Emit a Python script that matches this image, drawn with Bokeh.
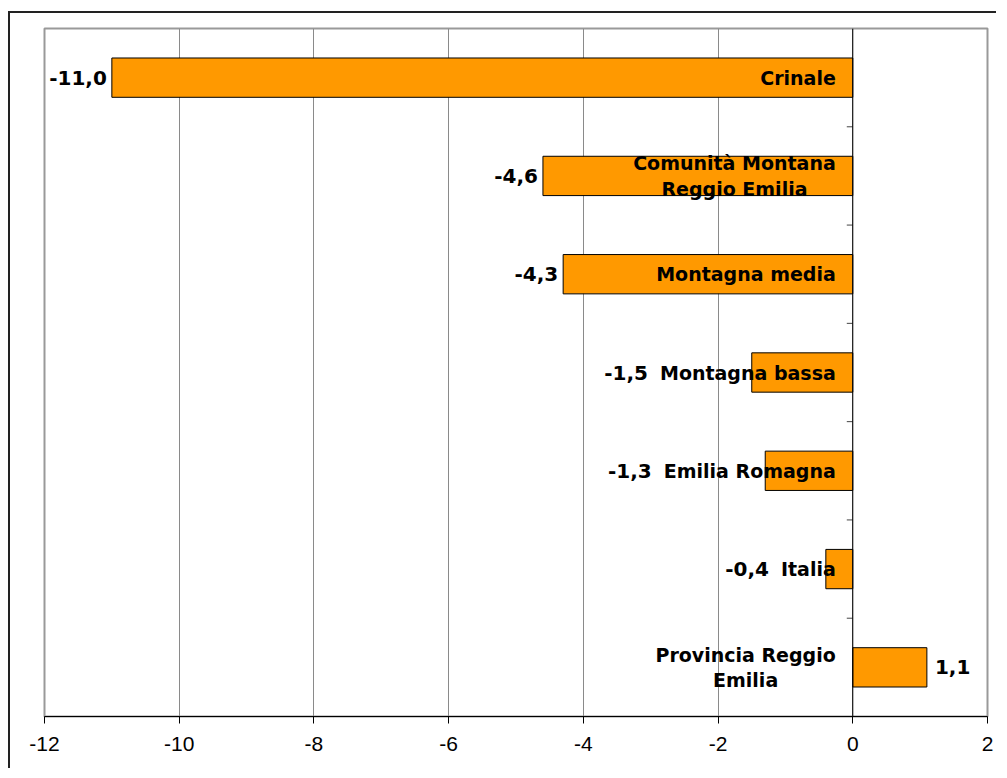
from bokeh.plotting import figure
from bokeh.models import ColumnDataSource, FixedTicker, Range1d, Span
from bokeh.core.properties import value
from bokeh.embed import file_html
from bokeh.resources import INLINE

# ---- data ----
categories = ["Crinale", "Comunità Montana\nReggio Emilia", "Montagna media",
              "Montagna bassa", "Emilia Romagna", "Italia",
              "Provincia Reggio\nEmilia"]
values = [-11.0, -4.6, -4.3, -1.5, -1.3, -0.4, 1.1]
value_labels = ["-11,0", "-4,6", "-4,3", "-1,5", "-1,3", "-0,4", "1,1"]
x_ticks = [-12, -10, -8, -6, -4, -2, 0, 2]
x_tick_labels = ["-12", "-10", "-8", "-6", "-4", "-2", "0", "2"]

# ---- layout / style ----
W, H = 988, 757
BL, BR, BT, BB = 34, 11, 15, 54
X_MIN, X_MAX = x_ticks[0], x_ticks[-1]
frame_w = W - BL - BR
ppu = frame_w / (X_MAX - X_MIN)
CAT_FONT = 19
VAL_FONT = 20
ORANGE = "#FF9900"

# approximate DejaVu Sans Bold advance widths (em)
CW = {" ": .348, "M": .995, "o": .687, "n": .712, "t": .478, "a": .675, "g": .716,
      "e": .678, "i": .343, "l": .343, "m": 1.042, "d": .716, "b": .716, "s": .595,
      "I": .372, "E": .683, "R": .770, "C": .734, "r": .493, "u": .712, "à": .675,
      "P": .733, "v": .652, "c": .593}


def text_w(s, size):
    return max(sum(CW.get(ch, .68) for ch in line) for line in s.split("\n")) * size


n = len(categories)
ys = [n - 1 - i for i in range(n)]
CAT_RIGHT = -17  # px from the zero line

single = dict(y=[], t=[])
multi = dict(y=[], t=[], xo=[])
for y, c in zip(ys, categories):
    if "\n" in c:
        multi["y"].append(y)
        multi["t"].append(c)
        multi["xo"].append(CAT_RIGHT - text_w(c, CAT_FONT) / 2)
    else:
        single["y"].append(y)
        single["t"].append(c)

neg = dict(y=[], t=[], xo=[])
pos = dict(x=[], y=[], t=[])
for y, c, v, lab in zip(ys, categories, values, value_labels):
    if v < 0:
        edge = min(v * ppu - 5, CAT_RIGHT - text_w(c, CAT_FONT) - 12)
        neg["y"].append(y)
        neg["t"].append(lab)
        neg["xo"].append(edge)
    else:
        pos["x"].append(v)
        pos["y"].append(y)
        pos["t"].append(lab)

p = figure(width=W, height=H, x_range=Range1d(X_MIN, X_MAX),
           y_range=Range1d(-0.5, n - 0.5), output_backend="svg",
           toolbar_location=None, y_axis_location=None,
           min_border_left=BL, min_border_right=BR, min_border_top=BT,
           min_border_bottom=BB)
p.styles = {"margin-top": "11px", "margin-left": "8px",
            "border-left": "2px solid #222", "border-top": "2px solid #222"}

p.outline_line_color = "#999999"
p.outline_line_width = 2
p.background_fill_color = "white"
p.border_fill_color = "white"

p.xgrid.ticker = FixedTicker(ticks=x_ticks)
p.xgrid.grid_line_color = "#8a8a8a"
p.xgrid.grid_line_width = 1
p.ygrid.visible = False

xa = p.xaxis[0]
xa.ticker = FixedTicker(ticks=x_ticks)
xa.major_label_overrides = {t: l for t, l in zip(x_ticks, x_tick_labels)}
xa.major_label_text_font = "Liberation Sans"
xa.major_label_text_font_size = "21px"
xa.major_label_text_color = "black"
xa.major_label_standoff = 13
xa.axis_line_color = "black"
xa.axis_line_width = 1
xa.major_tick_line_color = "black"
xa.major_tick_out = 7
xa.major_tick_in = 0
xa.minor_tick_line_color = None

src = ColumnDataSource(dict(y=ys, v=values))
p.hbar(y="y", left=0, right="v", height=0.4, source=src,
       fill_color=ORANGE, line_color="black", line_width=1)

# category axis drawn at zero, with tick marks between categories
p.add_layout(Span(location=0, dimension="height", line_color="black",
                  line_width=1))
bounds = [y + 0.5 for y in ys[1:]]
p.segment(x0=[-6 / ppu] * len(bounds), x1=[0] * len(bounds),
          y0=bounds, y1=bounds, line_color="#444444", line_width=1)

common = dict(text_font=value("DejaVu Sans"), text_font_style="bold",
              text_color="black", text_baseline="middle")

p.text(x=0, y="y", text="t", source=ColumnDataSource(single),
       x_offset=CAT_RIGHT, text_align="right",
       text_font_size=f"{CAT_FONT}px", **common)
p.text(x=0, y="y", text="t", x_offset="xo", source=ColumnDataSource(multi),
       text_align="center", text_line_height=1.15,
       text_font_size=f"{CAT_FONT}px", **common)
p.text(x=0, y="y", text="t", x_offset="xo", source=ColumnDataSource(neg),
       text_align="right", text_font_size=f"{VAL_FONT}px", **common)
p.text(x="x", y="y", text="t", source=ColumnDataSource(pos),
       x_offset=8, text_align="left", text_font_size=f"{VAL_FONT}px", **common)

open("out.html", "w").write(file_html(p, INLINE))
